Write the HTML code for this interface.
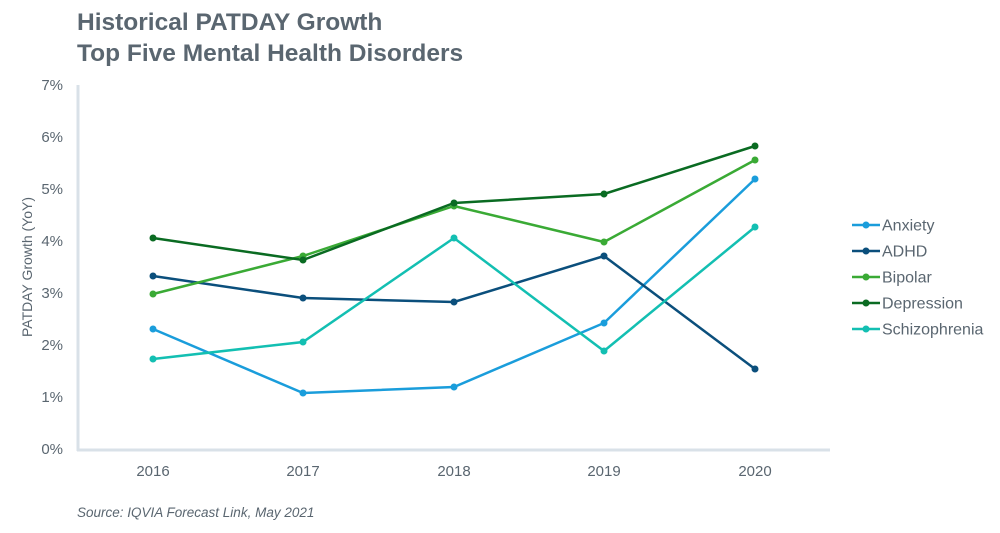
<!DOCTYPE html>
<html><head><meta charset="utf-8"><style>
html,body{margin:0;padding:0;background:#fff;}
body{width:1000px;height:528px;overflow:hidden;font-family:"Liberation Sans",Arial,sans-serif;}
</style></head><body>
<svg width="1000" height="528" xmlns="http://www.w3.org/2000/svg" font-family="Liberation Sans, Arial, sans-serif">
<text x="77" y="30" font-size="24.5" font-weight="bold" fill="#5a6670">Historical PATDAY Growth</text>
<text x="77" y="61" font-size="24.5" font-weight="bold" fill="#5a6670">Top Five Mental Health Disorders</text>
<line x1="78" y1="85" x2="78" y2="451" stroke="#d9e1e8" stroke-width="3"/>
<line x1="77" y1="450" x2="830" y2="450" stroke="#d9e1e8" stroke-width="3"/>
<g font-size="15" fill="#5a6670" text-anchor="end">
<text x="63" y="90">7%</text><text x="63" y="142">6%</text><text x="63" y="194">5%</text>
<text x="63" y="246">4%</text><text x="63" y="298">3%</text><text x="63" y="350">2%</text>
<text x="63" y="402">1%</text><text x="63" y="454">0%</text>
</g>
<g font-size="15" fill="#5a6670" text-anchor="middle">
<text x="153" y="476">2016</text><text x="303" y="476">2017</text><text x="454" y="476">2018</text>
<text x="604" y="476">2019</text><text x="755" y="476">2020</text>
</g>
<text transform="translate(32,267) rotate(-90)" font-size="14" fill="#5a6670" text-anchor="middle">PATDAY Growth (YoY)</text>
<g fill="none" stroke-width="2.5">
<polyline stroke="#1a9ddb" points="153,329 303,393 454,387 604,323 755,179"/>
<polyline stroke="#0b4f7c" points="153,276 303,298 454,302 604,256 755,369"/>
<polyline stroke="#3aaa35" points="153,294 303,256 454,206 604,242 755,160"/>
<polyline stroke="#0a6b22" points="153,238 303,260 454,203 604,194 755,146"/>
<polyline stroke="#13bfb2" points="153,359 303,342 454,238 604,351 755,227"/>
</g>
<g fill="#1a9ddb"><circle cx="153" cy="329" r="3.5"/><circle cx="303" cy="393" r="3.5"/><circle cx="454" cy="387" r="3.5"/><circle cx="604" cy="323" r="3.5"/><circle cx="755" cy="179" r="3.5"/></g>
<g fill="#0b4f7c"><circle cx="153" cy="276" r="3.5"/><circle cx="303" cy="298" r="3.5"/><circle cx="454" cy="302" r="3.5"/><circle cx="604" cy="256" r="3.5"/><circle cx="755" cy="369" r="3.5"/></g>
<g fill="#3aaa35"><circle cx="153" cy="294" r="3.5"/><circle cx="303" cy="256" r="3.5"/><circle cx="454" cy="206" r="3.5"/><circle cx="604" cy="242" r="3.5"/><circle cx="755" cy="160" r="3.5"/></g>
<g fill="#0a6b22"><circle cx="153" cy="238" r="3.5"/><circle cx="303" cy="260" r="3.5"/><circle cx="454" cy="203" r="3.5"/><circle cx="604" cy="194" r="3.5"/><circle cx="755" cy="146" r="3.5"/></g>
<g fill="#13bfb2"><circle cx="153" cy="359" r="3.5"/><circle cx="303" cy="342" r="3.5"/><circle cx="454" cy="238" r="3.5"/><circle cx="604" cy="351" r="3.5"/><circle cx="755" cy="227" r="3.5"/></g>
<g font-size="16" fill="#5a6670">
<line x1="852" y1="225" x2="880" y2="225" stroke="#1a9ddb" stroke-width="2.5"/><circle cx="866" cy="225" r="3.5" fill="#1a9ddb"/><text x="882" y="230.5">Anxiety</text>
<line x1="852" y1="251" x2="880" y2="251" stroke="#0b4f7c" stroke-width="2.5"/><circle cx="866" cy="251" r="3.5" fill="#0b4f7c"/><text x="882" y="256.5">ADHD</text>
<line x1="852" y1="277" x2="880" y2="277" stroke="#3aaa35" stroke-width="2.5"/><circle cx="866" cy="277" r="3.5" fill="#3aaa35"/><text x="882" y="282.5">Bipolar</text>
<line x1="852" y1="303" x2="880" y2="303" stroke="#0a6b22" stroke-width="2.5"/><circle cx="866" cy="303" r="3.5" fill="#0a6b22"/><text x="882" y="308.5">Depression</text>
<line x1="852" y1="329" x2="880" y2="329" stroke="#13bfb2" stroke-width="2.5"/><circle cx="866" cy="329" r="3.5" fill="#13bfb2"/><text x="882" y="334.5">Schizophrenia</text>
</g>
<text x="77" y="517" font-size="13.5" font-style="italic" fill="#5a6670">Source: IQVIA Forecast Link, May 2021</text>
</svg>
</body></html>
